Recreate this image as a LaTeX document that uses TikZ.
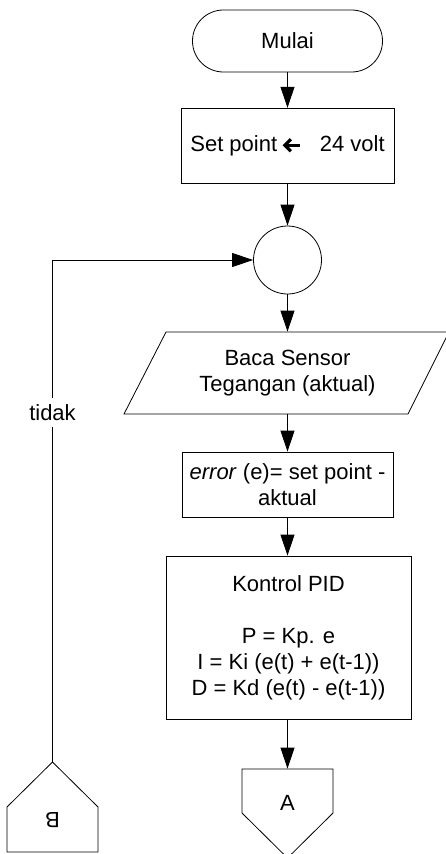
\documentclass[tikz,border=0pt]{standalone}
\usepackage{fontspec}
\setmainfont{Liberation Sans}
\usetikzlibrary{arrows.meta,shapes.geometric}
\newcommand\heavyleftarrow{\tikz[baseline=0pt, x=1pt, y=1pt, line width=3.2pt, line cap=butt, line join=miter]{\draw (19,6) -- (4,6); \draw (10,12) -- (4,6) -- (10,0);}}
\begin{document}
\begin{tikzpicture}[x=1pt,y=-1pt,
  line width=0.8pt,
  every node/.style={font=\fontsize{22}{26}\selectfont, align=center, inner sep=0pt},
  box/.style={draw, rectangle},
  arr/.style={-{Triangle[length=21pt,width=14pt]}},
]
\useasboundingbox (0,0) rectangle (445,854);
% nodes
\node[draw, rounded corners=30.9pt, minimum width=190pt, minimum height=62pt] (mulai) at (287.5,41) {Mulai};
\node[box, minimum width=213pt, minimum height=75pt] (setp) at (287.5,145.5) {Set point \heavyleftarrow\;\; 24 volt};
\node[draw, circle, minimum size=68pt] (circ) at (287.5,260) {};
\node[minimum width=240pt, minimum height=82pt] (baca) at (287.5,373) {Baca Sensor\\Tegangan (aktual)};
\draw (166,332) -- (449,332) -- (408,414) -- (124,414) -- cycle;
\node[box, minimum width=211pt, minimum height=65pt] (err) at (287.5,484.5) {\textit{error} (e)= set point -\\aktual};
\node[box, minimum width=245pt, minimum height=163pt] (pid) at (288.5,637.5) {Kontrol PID\\[26pt]P = Kp. e\\I = Ki (e(t) + e(t-1))\\D = Kd (e(t) - e(t-1))};
\node[minimum width=91pt, minimum height=68pt] (A) at (287.5,803) {A};
\draw (242,769) -- (333,769) -- (333,813) -- (287.5,858) -- (242,813) -- cycle;
\node[minimum height=116pt] (B) at (52.5,820) {\rotatebox{180}{B}};
\draw (52.5,762) -- (98,807) -- (98,852) -- (7,852) -- (7,807) -- cycle;
\node[anchor=base, inner ysep=6pt] (tidak) at (52.5,420) {tidak};
% connectors
\draw[arr] (mulai) -- (setp);
\draw[arr] (setp) -- (circ);
\draw[arr] (circ) -- (baca);
\draw[arr] (baca) -- (err);
\draw[arr] (err.south) -- (err.south |- pid.north);
\draw[arr] (pid.south -| A.north) -- (A.north);
\draw (tidak.south) -- (B.north);
\draw[arr] (tidak.north) |- (circ.west);
\end{tikzpicture}
\end{document}
